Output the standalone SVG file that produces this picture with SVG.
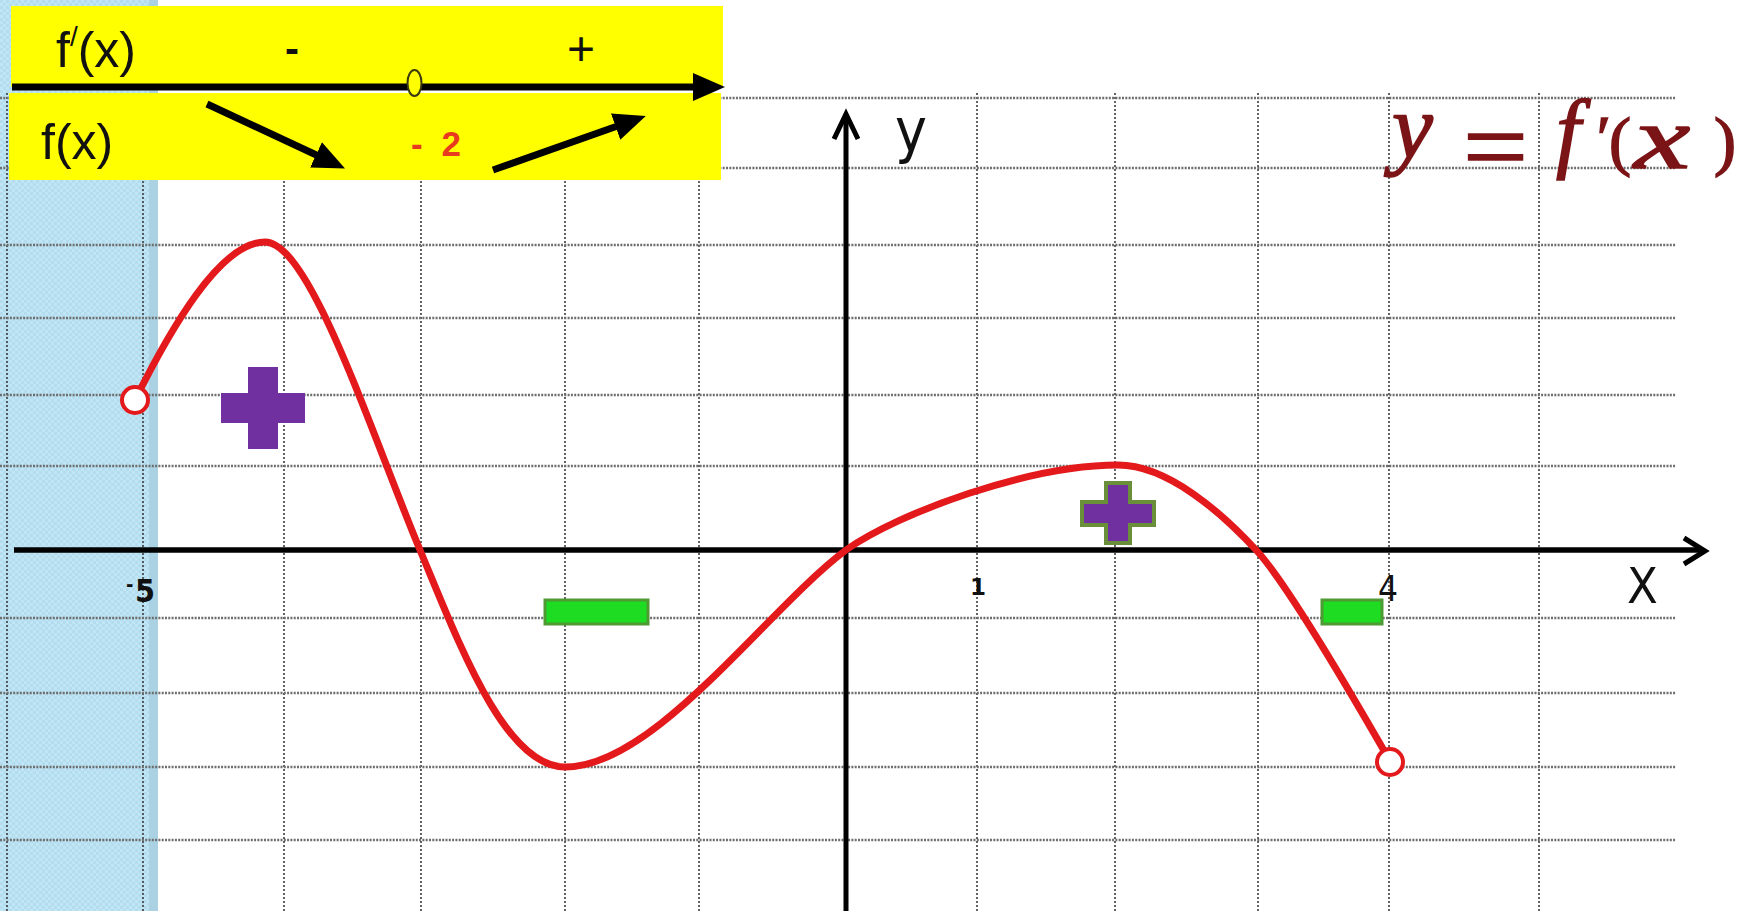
<svg xmlns="http://www.w3.org/2000/svg" width="1761" height="911" viewBox="0 0 1761 911">
<style>
.gv{stroke:#3c3c3c;stroke-width:1.6;stroke-dasharray:2 2;fill:none}
.gh{stroke:#6e6e6e;stroke-width:2.6;stroke-dasharray:2 1.3;fill:none}
.ax{stroke:#000;fill:none}
.lbl{font-family:"Liberation Sans Narrow","DejaVu Sans Condensed","Liberation Sans",sans-serif;fill:#111}
.tbl{font-family:"Liberation Sans",Arial,sans-serif;fill:#111}
.ttl{font-family:"Liberation Serif","DejaVu Serif",serif;fill:#7b1416;stroke:#7b1416;stroke-width:1.6}
.arr{stroke:#000;stroke-width:7;fill:none;marker-end:url(#head)}
.minus{fill:#1ddc22;stroke:#4f9a33;stroke-width:3}
</style>
<defs>
<pattern id="dots" width="6" height="6" patternUnits="userSpaceOnUse">
<rect width="6" height="6" fill="#c0e5f5"/>
<rect width="3" height="3" fill="#b3dcee"/>
<rect x="3" y="3" width="3" height="3" fill="#b3dcee"/>
</pattern>
<marker id="head" markerUnits="userSpaceOnUse" markerWidth="32" markerHeight="28" refX="11" refY="14" orient="auto">
<path d="M0,0 L32,14 L0,28 Z" fill="#000"/>
</marker>
</defs>
<rect width="1761" height="911" fill="#fff"/>
<g id="background">
<rect x="0" y="0" width="158" height="911" fill="url(#dots)"/>
<rect x="149" y="0" width="9" height="911" fill="#aad2e3"/>
</g>
<g id="grid">
<path class="gv" d="M7,93V911M143,93V911M284,93V911M421,93V911M565,93V911M699,93V911M977,93V911M1115,93V911M1258,93V911M1389,93V911M1539,93V911"/>
<path class="gh" d="M0,98H1676M0,168H1676M0,245H1676M0,318H1676M0,395H1676M0,466H1676M0,618H1676M0,693H1676M0,767H1676M0,840H1676"/>
</g>
<g id="table">
<rect x="11" y="6" width="712" height="81" fill="#ffff00"/>
<rect x="9" y="93" width="712" height="87" fill="#ffff00"/>
<text class="tbl" x="56" y="67" font-size="50">f<tspan font-size="28" dy="-21">/</tspan><tspan dy="21">(x)</tspan></text>
<text class="tbl" x="292" y="63" font-size="42" font-weight="bold" text-anchor="middle">-</text>
<text class="tbl" x="581" y="65" font-size="48" text-anchor="middle">+</text>
<text class="tbl" x="41" y="159" font-size="50">f(x)</text>
<text x="411" y="156" font-family="Liberation Sans,Arial,sans-serif" font-weight="bold" font-size="35" word-spacing="9" fill="#e83a1e">- 2</text>
</g>
<g id="connectors">
<line class="arr" x1="12" y1="87" x2="704" y2="87"/>
<ellipse cx="414.5" cy="83" rx="7" ry="13" fill="#ffff00" stroke="#3a3a10" stroke-width="2"/>
<line class="arr" x1="207" y1="104" x2="326" y2="159.5"/>
<line class="arr" x1="493" y1="170" x2="626" y2="123"/>
</g>
<g id="axes">
<line class="ax" x1="14" y1="550" x2="1703" y2="550" stroke-width="5.5"/>
<polyline class="ax" points="1684,538 1705,551 1684,564" stroke-width="5"/>
<line class="ax" x1="846" y1="911" x2="846" y2="115" stroke-width="5"/>
<polyline class="ax" points="834,139 846,114 858,139" stroke-width="5"/>
<text class="lbl" x="895" y="151" font-size="60">y</text>
<text class="lbl" x="1627" y="603" font-size="50">X</text>
<text class="lbl" x="126" y="602" font-size="32" font-weight="bold"><tspan font-size="20" dy="-11">-</tspan><tspan x="135" dy="11">5</tspan></text>
<text x="970" y="595" font-family="DejaVu Sans,sans-serif" font-weight="bold" font-size="23" fill="#111">1</text>
<text class="lbl" x="1378" y="601" font-size="35">4</text>
</g>
<g id="title">
<text class="ttl"><tspan x="1392" y="158" font-size="92" font-style="italic">y</tspan><tspan x="1556" y="161" font-size="88" font-style="italic">f</tspan><tspan x="1597" y="158" font-size="62">′</tspan><tspan x="1609" y="163" font-size="66">(</tspan><tspan x="1714" y="163" font-size="66">)</tspan></text>
<text class="ttl" x="1634" y="168" font-size="88" font-style="italic" textLength="56" lengthAdjust="spacingAndGlyphs">x</text>
<text class="ttl" x="1463" y="182" font-size="104" textLength="65" lengthAdjust="spacingAndGlyphs">=</text>
</g>
<g id="curve">
<path d="M135,400 C170,330 220,242 265,242 C310,242 370,430 420,550 C460,646 505,767 565,767 C655,767 766,610 846,550 C900,512 1030,465 1118,465 C1168,465 1222,513 1257,551 C1287,584 1355,700 1390,761" fill="none" stroke="#e3191c" stroke-width="7" stroke-linecap="round"/>
<circle cx="135" cy="400" r="13" fill="#fff" stroke="#e3191c" stroke-width="4"/>
<circle cx="1390" cy="762" r="13" fill="#fff" stroke="#e3191c" stroke-width="4"/>
</g>
<g id="plus-left">
<rect x="248" y="367" width="30" height="82" fill="#7030a0"/>
<rect x="221" y="393" width="84" height="30" fill="#7030a0"/>
</g>
<g id="plus-right">
<path d="M1106,483 H1130 V502 H1154 V525 H1130 V543 H1106 V525 H1082 V502 H1106 Z" fill="#7030a0" stroke="#6a8f3a" stroke-width="4"/>
</g>
<g id="minus-left">
<rect class="minus" x="545" y="600" width="103" height="24"/>
</g>
<g id="minus-right">
<rect class="minus" x="1322" y="600" width="60" height="24"/>
</g>
</svg>
